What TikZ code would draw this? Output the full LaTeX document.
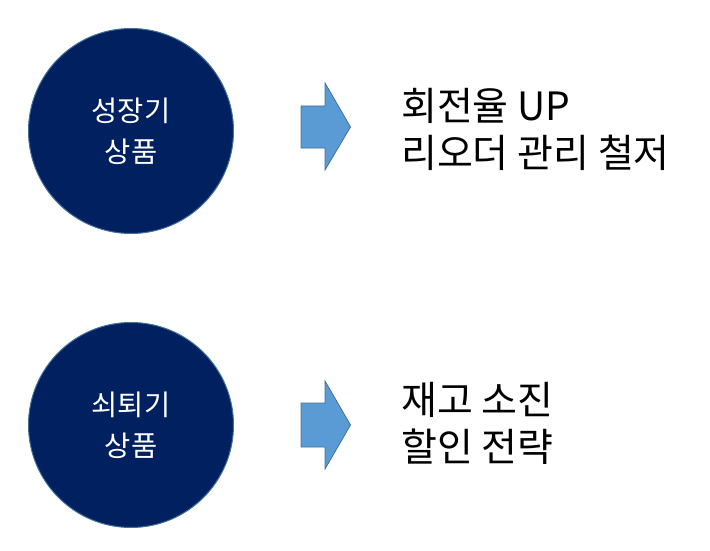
\documentclass[tikz,border=0pt]{standalone}
\usepackage{fontspec}
\setmainfont{Noto Sans CJK KR}
\definecolor{navy}{HTML}{002060}
\definecolor{edgeblue}{HTML}{41719C}
\definecolor{arrowblue}{HTML}{5B9BD5}
\begin{document}
\begin{tikzpicture}[x=1pt,y=-1pt,
  stage/.style={circle, fill=navy, draw=edgeblue, line width=1pt, minimum size=205pt, inner sep=0pt,
    text=white, align=center, font=\fontsize{28.5}{41}\selectfont},
  blockarrow/.style={fill=arrowblue, draw=edgeblue, line width=0.8pt, line join=miter},
  note/.style={anchor=west, align=left, inner sep=0pt, font=\fontsize{39}{47}\selectfont}]
\useasboundingbox (0,0) rectangle (710,551);
% group 1
\node[stage] (c1) at (131,131) {성장기\\상품};
\draw[blockarrow] (301,106) -- (325,106) -- (325,83) -- (350.5,127) -- (325,170) -- (325,148) -- (301,148) -- cycle;
\node[note] (t1) at (401,129) {회전율 UP\\리오더 관리 철저};
% group 2
\node[stage] (c2) at (131,425) {쇠퇴기\\상품};
\draw[blockarrow] (301,403) -- (325,403) -- (325,381) -- (350.5,425) -- (325,469) -- (325,447) -- (301,447) -- cycle;
\node[note] (t2) at (401,423) {재고 소진\\할인 전략};
\end{tikzpicture}
\end{document}
